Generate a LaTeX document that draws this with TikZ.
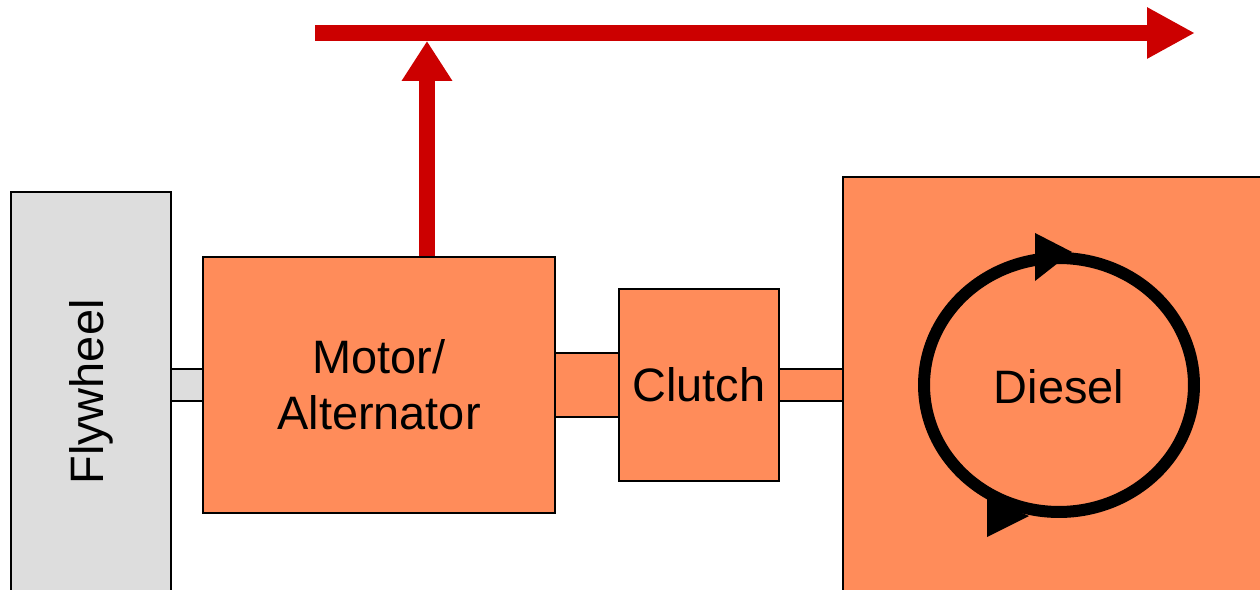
\documentclass[tikz,border=0pt]{standalone}
\usepackage{fontspec}
\setmainfont{Liberation Sans}
\usetikzlibrary{arrows.meta}
\definecolor{EngOrange}{RGB}{255,140,90}
\definecolor{ShaftGray}{RGB}{221,221,221}
\definecolor{PowerRed}{RGB}{204,0,0}

\begin{document}
\begin{tikzpicture}[x=0.02cm,y=-0.02cm,
  part/.style={draw=black,line width=1.14pt,fill=EngOrange,inner sep=0pt,
               align=center,font=\fontsize{26.7}{32}\selectfont},
  shaft/.style={draw=black,line width=1.14pt,fill=EngOrange,inner sep=0pt},
  bus/.style={line width=9.1pt,PowerRed,-{Triangle[length=0.96cm,width=0.96cm]}},
]
\useasboundingbox (0,0) rectangle (1260,590);
% shafts
\node[shaft,fill=ShaftGray,minimum width=0.64cm,minimum height=0.64cm] (flyshaft) at (187,385) {};
\node[shaft,minimum width=1.28cm,minimum height=1.28cm] (clutchshaft) at (587,385) {};
\node[shaft,minimum width=1.28cm,minimum height=0.64cm] (dieselshaft) at (811,385) {};
% machines
\node[part,fill=ShaftGray,rotate=90,minimum width=8cm,minimum height=3.22cm] (fly) at (91,392)
  {Flywheel};
\node[part,minimum width=7.04cm,minimum height=5.12cm] (motor) at (379,385)
  {Motor/\\Alternator};
\node[part,minimum width=3.2cm,minimum height=3.84cm] (clutch) at (699,385)
  {Clutch};
\node[part,minimum width=8.64cm,minimum height=8.32cm] (diesel) at (1059,385) {};
\node[font=\fontsize{26.7}{32}\selectfont] (dieseltext) at (1059,387) {Diesel};
% rotation
\draw[line width=0.24cm] (diesel.center) ellipse [x radius=2.7cm,y radius=2.54cm];
\fill (1035,233) -- (1072,252) -- (1035,281) -- cycle;
\fill (987,498) -- (1029,516) -- (987,537) -- cycle;
% power out
\coordinate (busstart) at (315,33);
\coordinate (busend) at (1195,33);
\coordinate (tap) at (427,41);
\draw[bus] (busstart) -- (busend);
\draw[bus,-{Triangle[length=0.8cm,width=0.96cm]}] (motor.north -| tap) -- (tap);
\end{tikzpicture}
\end{document}
